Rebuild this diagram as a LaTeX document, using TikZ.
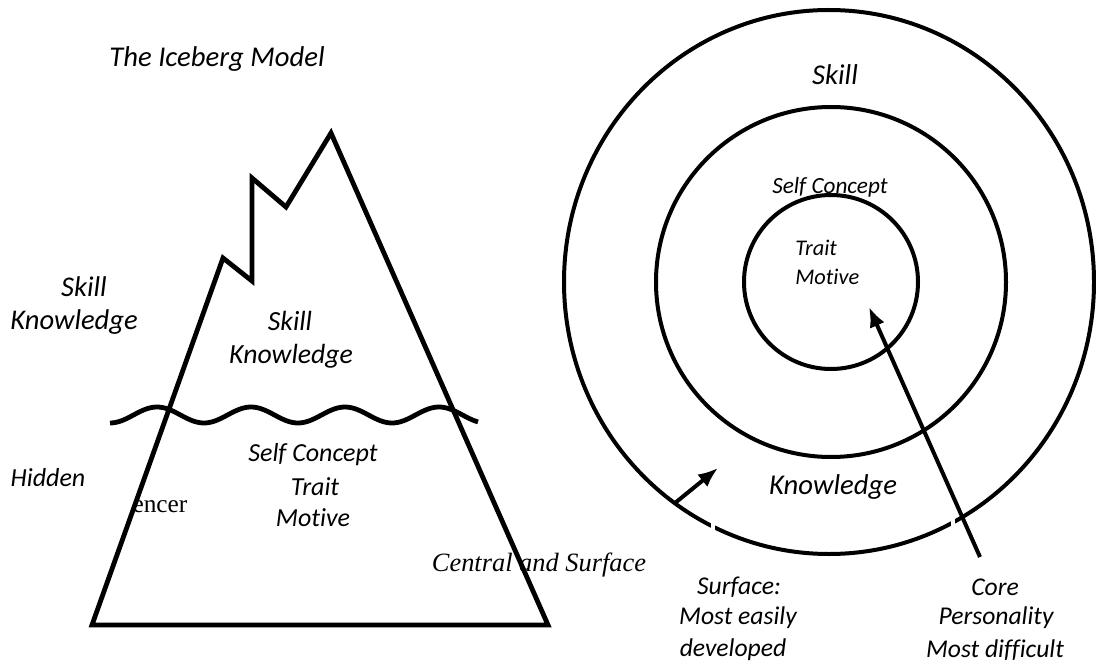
\documentclass[tikz,border=0pt]{standalone}
\usepackage{fontspec}
\newfontfamily\calibfont[Ligatures=NoCommon]{Carlito}
\newfontfamily\timesfont{Liberation Serif}
\usetikzlibrary{arrows.meta}
\begin{document}
\begin{tikzpicture}[x=0.75pt,y=-0.75pt,
  lbl/.style={font=\calibfont\itshape\fontsize{#1}{#1}\selectfont, inner sep=0pt},
  tnr/.style={font=\timesfont\fontsize{#1}{#1}\selectfont, inner sep=0pt},
  berg/.style={line width=3.6pt, line join=miter},
  ring/.style={line width=3pt},
  pointer/.style={line width=3pt, -{Latex[length=15pt,width=12pt]}}
]
\useasboundingbox (0,0) rectangle (1096,663);

% ---------- Iceberg ----------
\draw[berg] (92,625) -- (223,258) -- (252,281) -- (252,178) -- (286,207)
  -- (331,133) -- (548,625) -- cycle;
\draw[berg, line cap=butt] plot[domain=0:368, samples=120, smooth]
  ({110+\x}, {415+8*cos(3.82979*\x)});

\node[lbl=21.5] (title) at (217,59) {The Iceberg Model};
\node[lbl=21.4] (lskill) at (84,287) {Skill};
\node[lbl=21.4] (lknow) at (74,322) {Knowledge};
\node[lbl=19.5] (hidden) at (48,478) {Hidden};
\node[lbl=20.8] (iskill) at (290,321) {Skill};
\node[lbl=20.8] (iknow) at (291,356) {Knowledge};
\node[lbl=19.5] (iself) at (313,455) {Self Concept};
\node[lbl=19.5] (itrait) at (315,487) {Trait};
\node[lbl=19.5] (imotive) at (313,518) {Motive};
\node[tnr=19] (encer) at (160,507) {encer};
\node[inner sep=0pt, font=\timesfont\itshape\fontsize{19.8}{19.8}\selectfont] (central) at (539,565) {Central and Surface};

% ---------- Circles ----------
\coordinate (c) at (831,282);
\coordinate (co) at (829,282);
\draw[ring] (co) ellipse[x radius=198.75pt, y radius=204pt];
\draw[ring] (c) circle[radius=131.25pt];
\draw[ring] (c) circle[radius=65.25pt];
% small breaks in the outer ring
\fill[white] (711,518) rectangle (715,538);
\fill[white] (951,518) rectangle (955,538);

\node[lbl=21.5] (cskill) at (835,75) {Skill};
\node[lbl=17.4] (cself) at (830,187) {Self Concept};
\node[lbl=16.8, anchor=west] (ctrait) at (795,248) {Trait};
\node[lbl=16.8, anchor=west] (cmotive) at (795,277) {Motive};
\node[lbl=21.5] (cknow) at (833,487) {Knowledge};

\node[lbl=19.2] (s1) at (739,587) {Surface:};
\node[lbl=19.2] (s2) at (738,618) {Most easily};
\node[lbl=19.2] (s3) at (733,650) {developed};
\node[lbl=19.2] (k1) at (995,587) {Core};
\node[lbl=19.2] (k2) at (996,618) {Personality};
\node[lbl=19.2] (k3) at (995,650) {Most difficult};

% ---------- Arrows ----------
\coordinate (a1s) at (675,503);
\coordinate (a1e) at (718,468);
\coordinate (a2s) at (980,557);
\coordinate (a2e) at (869,307);
\draw[pointer] (a1s) -- (a1e);
\draw[pointer] (a2s) -- (a2e);
\end{tikzpicture}
\end{document}
